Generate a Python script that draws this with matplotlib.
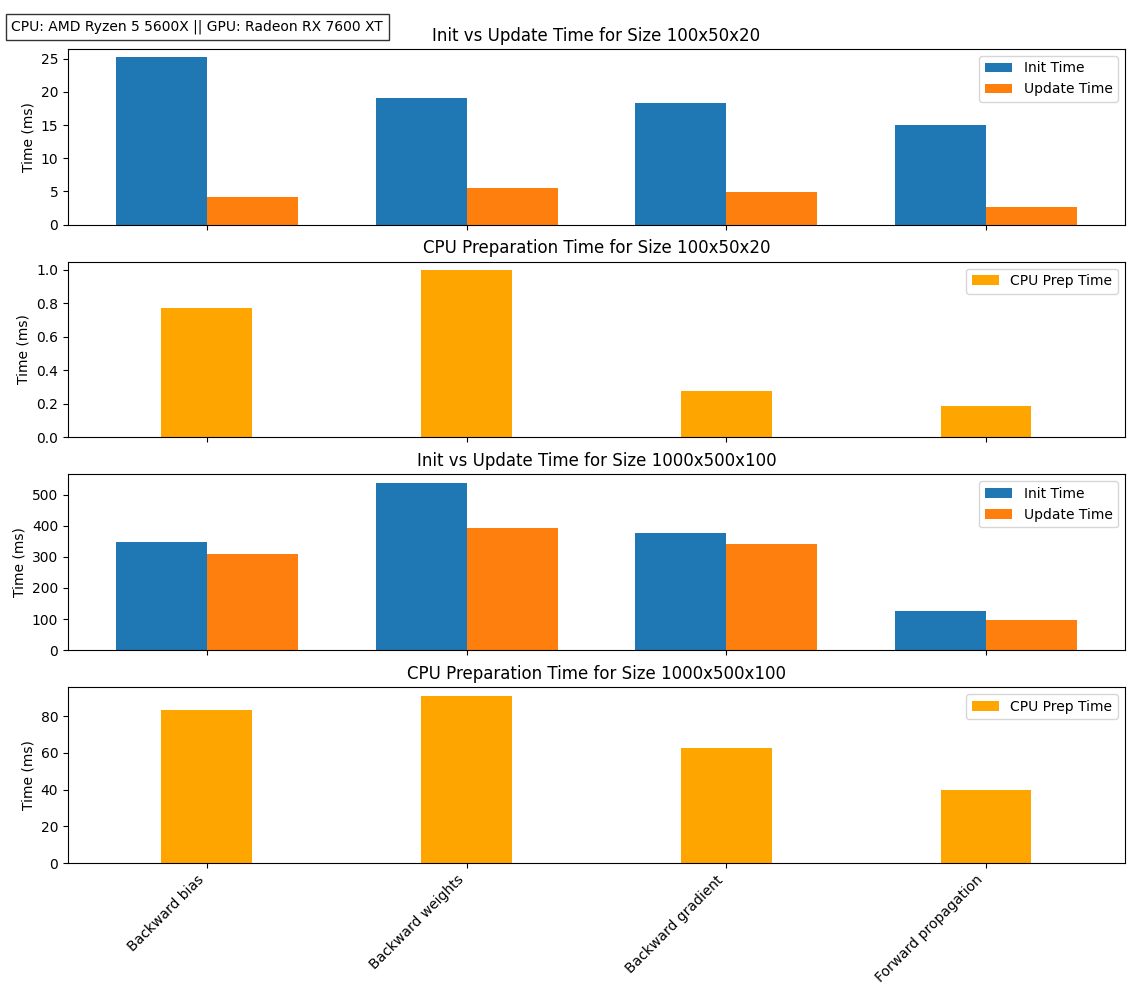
import numpy as np
import matplotlib
matplotlib.use("Agg")
import matplotlib.pyplot as plt

kernels = ["Backward bias", "Backward weights", "Backward gradient", "Forward propagation"]

# size 100x50x20
init_small = [25.2, 19.05, 18.3, 15.0]
update_small = [4.1, 5.45, 4.85, 2.6]
prep_small = [0.775, 1.0, 0.277, 0.187]

# size 1000x500x100
init_large = [349, 538, 377, 125]
update_large = [310, 394, 342, 96]
prep_large = [83.2, 91.2, 62.4, 39.6]

sizes = ["100x50x20", "1000x500x100"]


def main():
    x = np.arange(len(kernels))
    width = 0.35
    fig, axes = plt.subplots(4, 1, figsize=(11.37, 9.97), dpi=100, sharex=True)

    groups = [(init_small, update_small, prep_small), (init_large, update_large, prep_large)]
    for i, (init, update, prep) in enumerate(groups):
        ax = axes[2 * i]
        ax.bar(x - width / 2, init, width, label="Init Time")
        ax.bar(x + width / 2, update, width, label="Update Time")
        ax.set_title("Init vs Update Time for Size {0}".format(sizes[i]))
        ax.set_ylabel("Time (ms)")
        ax.legend(loc="upper right")

        ax = axes[2 * i + 1]
        ax.bar(x, prep, width, color="orange", label="CPU Prep Time")
        ax.set_title("CPU Preparation Time for Size {0}".format(sizes[i]))
        ax.set_ylabel("Time (ms)")
        ax.legend(loc="upper right")

    axes[-1].set_xticks(x)
    axes[-1].set_xticklabels(kernels, rotation=45, ha="right")

    fig.subplots_adjust(left=0.0598, right=0.9894, top=0.951, bottom=0.1344, hspace=0.21)
    fig.text(0.01, 0.973, "CPU: AMD Ryzen 5 5600X || GPU: Radeon RX 7600 XT",
             fontsize=10, va="center", ha="left",
             bbox=dict(facecolor="white", edgecolor="black", alpha=0.8))
    fig.savefig("out.png", dpi=100)


if __name__ == "__main__":
    main()
